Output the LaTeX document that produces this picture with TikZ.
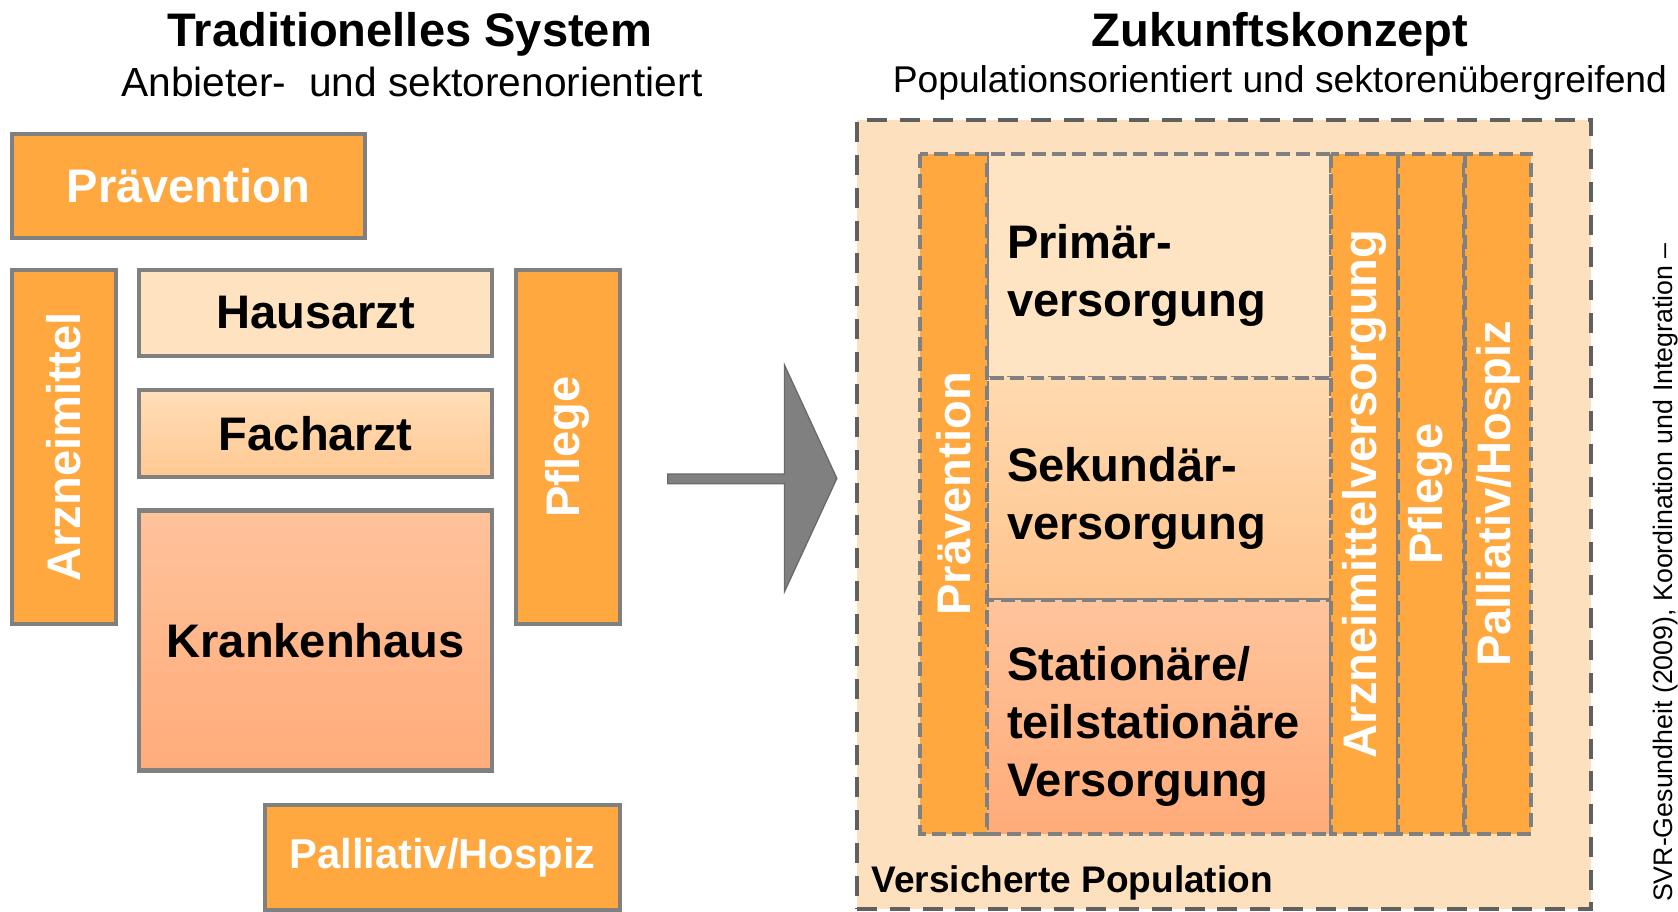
\documentclass[tikz,border=0pt]{standalone}
\usepackage{fontspec}
\setmainfont{Liberation Sans}
\usepackage{tikz}

\definecolor{orng}{RGB}{255,168,64}
\definecolor{peach}{RGB}{255,226,192}
\definecolor{popbg}{RGB}{253,224,190}
\definecolor{rim}{RGB}{128,128,128}
\definecolor{darkrim}{RGB}{96,96,96}
\definecolor{arrowedge}{RGB}{105,105,105}

\begin{document}
\begin{tikzpicture}[x=0.5pt,y=-0.5pt,
  box/.style={draw=rim,line width=1.9pt,inner sep=0pt,align=center,
    font=\fontsize{22}{27}\selectfont\bfseries},
  orangebox/.style={box,fill=orng,text=white},
  cell/.style={box,dash pattern=on 6.5pt off 3pt},
  textcell/.style={cell,minimum width=161pt,text width=142pt,align=left,
    execute at begin node={\rule{0pt}{25pt}}},
  orangecell/.style={cell,fill=orng,text=white},
  title/.style={anchor=base,font=\fontsize{22}{26}\selectfont\bfseries},
  subtitle/.style={anchor=base,font=\fontsize{19}{23}\selectfont}
]
\useasboundingbox (0,0) rectangle (1568,852);

% links: traditionelles System
\node[title] (tradtitle) at (383,43) {Traditionelles System};
\node[subtitle] (tradsub) at (385,90) {Anbieter-\ \ und sektorenorientiert};

\node[orangebox,minimum width=165pt,minimum height=48.5pt] (praev) at (176,173.5) {Prävention};
\node[orangebox,rotate=90,minimum width=165.5pt,minimum height=48.5pt] (arznei) at (59.5,417.5) {Arzneimittel};
\node[orangebox,rotate=90,minimum width=165.5pt,minimum height=48.5pt] (pflege) at (530.5,417.5) {Pflege};
\node[box,fill=peach,minimum width=165pt,minimum height=40.5pt] (haus) at (295,292.5) {Hausarzt};
\node[box,top color={rgb,255:red,255;green,222;blue,183},bottom color={rgb,255:red,255;green,200;blue,146},
  minimum width=165pt,minimum height=41pt] (fach) at (295,405) {Facharzt};
\node[box,top color={rgb,255:red,255;green,194;blue,155},bottom color={rgb,255:red,255;green,172;blue,122},
  minimum width=165pt,minimum height=121.5pt] (kh) at (295,598.5) {Krankenhaus};
\node[orangebox,font=\fontsize{19.5}{24}\selectfont\bfseries,minimum width=165.5pt,minimum height=49pt] (pall) at (413.5,801) {Palliativ/Hospiz};

% Pfeil
\draw[draw=arrowedge,fill=rim,line width=0.6pt] (624,443) -- (733,443) -- (733,341) -- (782,447)
  -- (733,553) -- (733,452) -- (624,452) -- cycle;

% rechts: Zukunftskonzept
\node[title] (zuktitle) at (1196,43) {Zukunftskonzept};
\node[subtitle,font=\fontsize{17.4}{21}\selectfont] (zuksub) at (1196,86) {Populationsorientiert und sektorenübergreifend};

\node[draw=darkrim,fill=popbg,line width=1.9pt,dash pattern=on 9.3pt off 6pt,
  minimum width=343pt,minimum height=368.5pt] (pop) at (1144,480.5) {};
\node[anchor=base west,inner sep=0pt,font=\fontsize{17.3}{21}\selectfont\bfseries] (poplabel) at (814,834) {Versicherte Population};

\node[textcell,fill={rgb,255:red,255;green,228;blue,196},minimum height=104.5pt] (prim) at (1083,248.5) {Primär-\\versorgung};
\node[textcell,top color={rgb,255:red,255;green,218;blue,176},bottom color={rgb,255:red,255;green,196;blue,142},
  minimum height=104pt] (sek) at (1083,457) {Sekundär-\\versorgung};
\node[textcell,top color={rgb,255:red,255;green,196;blue,156},bottom color={rgb,255:red,255;green,171;blue,121},
  minimum height=109pt] (stat) at (1083,670) {Stationäre/\\teilstationäre\\Versorgung};

\foreach \n/\x/\t in {praevR/891/Prävention, arzR/1275/Arzneimittelversorgung,
  pflR/1337/Pflege, pallR/1400/{Palliativ/Hospiz}}{
\node[orangecell,rotate=90,minimum width=317.5pt,minimum height=31pt] (\n) at (\x,461.5) {\t};
}

\node[rotate=90,font=\fontsize{12.5}{15}\selectfont] (quelle) at (1556,535)
  {SVR-Gesundheit (2009), Koordination und Integration –};
\end{tikzpicture}
\end{document}
